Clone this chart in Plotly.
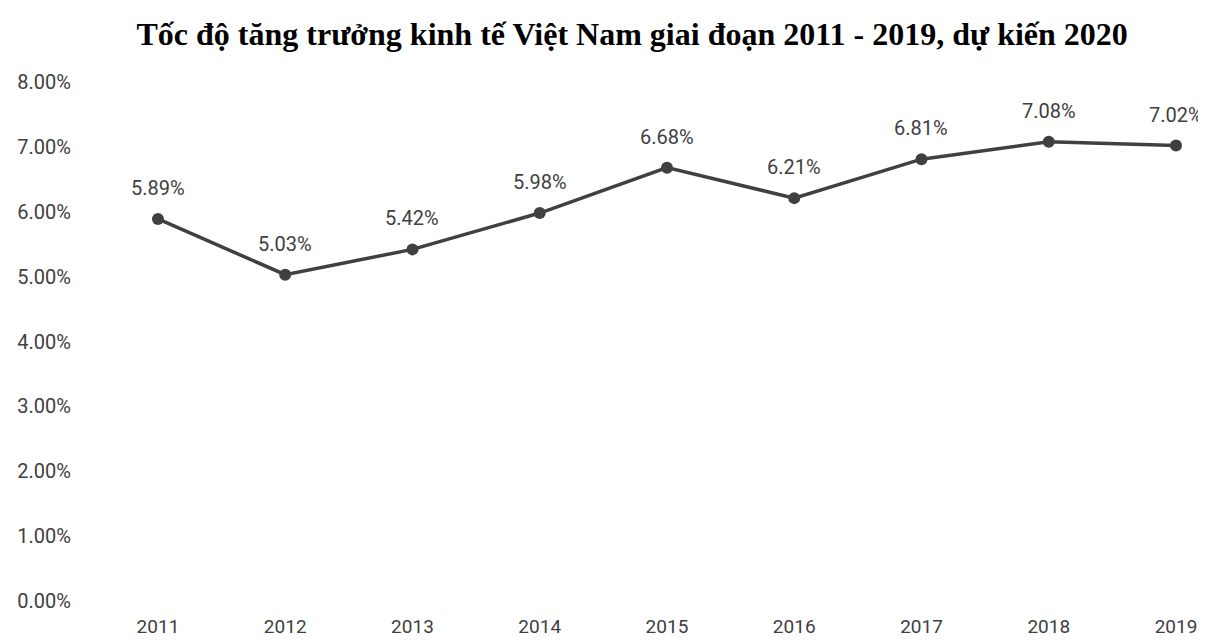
import plotly.graph_objects as go

years = ["2011", "2012", "2013", "2014", "2015", "2016", "2017", "2018", "2019"]
growth = [5.89, 5.03, 5.42, 5.98, 6.68, 6.21, 6.81, 7.08, 7.02]
y_ticks = [0, 1, 2, 3, 4, 5, 6, 7, 8]
y_tick_labels = [f"{v:.2f}%" for v in y_ticks]
title_text = "Tốc độ tăng trưởng kinh tế Việt Nam giai đoạn 2011 - 2019, dự kiến 2020"

xs = list(range(len(years)))
line_color = "#404040"
font_family = "Roboto, 'Open Sans', sans-serif"

W, H = 1198, 632  # page body has an 8px margin in the 1206x640 window

fig = go.Figure()
fig.add_trace(go.Scatter(
    x=xs, y=growth, mode="lines+markers",
    line=dict(color=line_color, width=3.5),
    marker=dict(color=line_color, size=12),
    hoverinfo="skip", showlegend=False, cliponaxis=False,
))

for x, v in zip(xs, growth):
    fig.add_annotation(
        x=x, y=v, text=f"{v:.2f}%", showarrow=False, yshift=31,
        font=dict(family=font_family, size=20, color=line_color),
    )

fig.update_layout(
    width=W, height=H,
    margin=dict(l=82, r=16, t=74, b=39, autoexpand=False),
    paper_bgcolor="white", plot_bgcolor="white",
    title=dict(
        text=title_text, x=0.521, xanchor="center", y=1 - 26 / H, yanchor="middle",
        font=dict(family="'Liberation Serif', 'Times New Roman', serif", size=32, color="black", weight="bold"),
    ),
    xaxis=dict(
        range=[-0.534, 8.11], tickmode="array", tickvals=xs, ticktext=years,
        showgrid=False, zeroline=False, showline=False, ticks="",
        ticklabelstandoff=12, automargin=False,
        tickfont=dict(family=font_family, size=19, color=line_color),
    ),
    yaxis=dict(
        range=[0, 8], tickmode="array", tickvals=y_ticks, ticktext=y_tick_labels,
        showgrid=False, zeroline=False, showline=False, ticks="",
        ticklabelstandoff=18, automargin=False,
        tickfont=dict(family=font_family, size=20, color=line_color),
    ),
)

fig.write_html("out.html")
